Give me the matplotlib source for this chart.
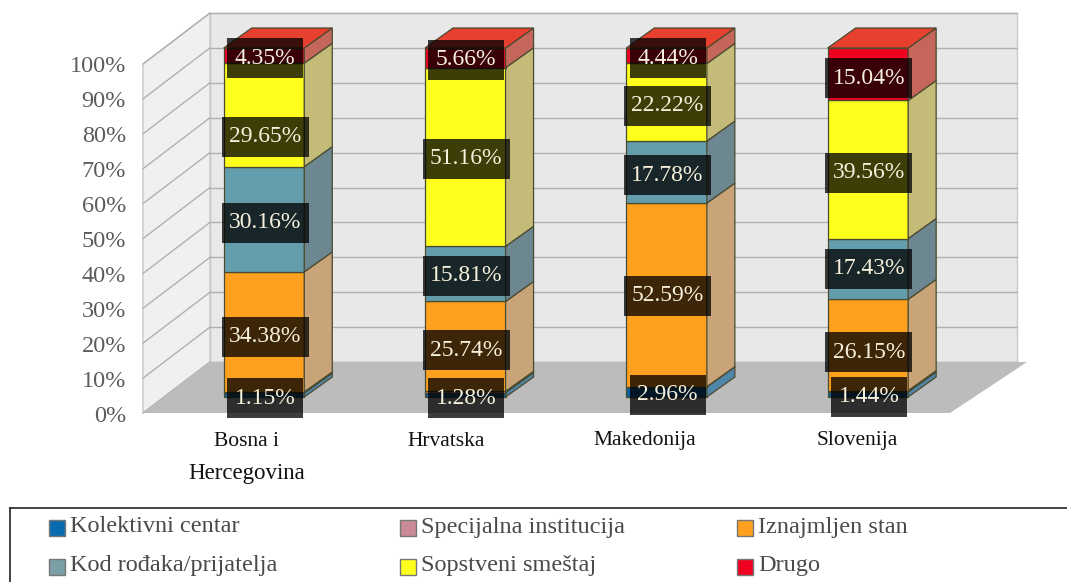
import matplotlib
matplotlib.use('Agg')
import matplotlib.pyplot as plt
from matplotlib.patches import Polygon, Rectangle

plt.rcParams['font.family'] = ['Liberation Serif', 'DejaVu Serif']

COUNTRIES = ['Bosna i\nHercegovina', 'Hrvatska', 'Makedonija', 'Slovenija']
SERIES_NAMES = ['Kolektivni centar', 'Specijalna institucija', 'Iznajmljen stan',
                'Kod rođaka/prijatelja', 'Sopstveni smeštaj', 'Drugo']

KOLEKTIVNI = [1.15, 1.28, 2.96, 1.44]
SPECIJALNA = [0.31, 0.35, 0.01, 0.38]
IZNAJMLJEN = [34.38, 25.74, 52.59, 26.15]
KOD_RODAKA = [30.16, 15.81, 17.78, 17.43]
SOPSTVENI = [29.65, 51.16, 22.22, 39.56]
DRUGO = [4.35, 5.66, 4.44, 15.04]
ALL_SERIES = [KOLEKTIVNI, SPECIJALNA, IZNAJMLJEN, KOD_RODAKA, SOPSTVENI, DRUGO]

PERCENT_TICKS = [0, 10, 20, 30, 40, 50, 60, 70, 80, 90, 100]

# height of the printed label boxes, they do not sit in the middle of the segments
LABEL_HEIGHTS = [
    [-0.3, None, 17.2, 49.9, 74.5, 97.1],
    [-0.3, None, 13.4, 34.7, 68.2, 96.6],
    [0.6, None, 29.0, 63.6, 83.4, 97.1],
    [0.0, None, 12.8, 36.7, 64.2, 91.4],
]

FRONT_COLORS = ['#0a62a0', '#c98a96', '#ffa11f', '#649ead', '#ffff1e', '#f00020']
SIDE_COLORS = ['#4f86a8', '#b08a90', '#c8a478', '#6d8791', '#c4bb78', '#c4665a']
LEGEND_COLORS = ['#0a6cb0', '#c98a96', '#ffa11f', '#7a9fa5', '#ffff1e', '#f00020']
TOP_COLOR = '#e8402e'
EDGE_COLOR = '#4a4a30'

FIG_W = 1067
FIG_H = 582
PX_PER_PERCENT = 3.49
PX_PER_CATEGORY = 201.3
FIRST_BAR_PX = 264
BASE_PX = 397

BAR_WIDTH = 0.40
DEPTH_X = 28 / PX_PER_CATEGORY
DEPTH_Y = 20 / PX_PER_PERCENT


def x_from_px(x):
    return (x - FIRST_BAR_PX) / PX_PER_CATEGORY


def y_from_px(y):
    return (BASE_PX - y) / PX_PER_PERCENT


def fig_text(x, y, text, **kwargs):
    fig.text(x / FIG_W, 1 - y / FIG_H, text, va='center', **kwargs)


def draw_walls(ax):
    backLeft = x_from_px(210)
    frontLeft = x_from_px(143)
    backRight = x_from_px(1017)
    floorBackRight = x_from_px(1027)
    floorFrontRight = x_from_px(950)
    backZero = y_from_px(362)
    frontZero = y_from_px(413)
    backTop = backZero + 100

    ax.add_patch(Polygon([(backLeft, backZero), (backRight, backZero), (backRight, backTop), (backLeft, backTop)],
                         facecolor='#e8e8e8', edgecolor='#c8c8c8', lw=1, zorder=1))
    ax.add_patch(Polygon([(frontLeft, frontZero), (backLeft, backZero), (backLeft, backTop), (frontLeft, frontZero + 100)],
                         facecolor='#f0f0f0', edgecolor='#c8c8c8', lw=1, zorder=1))
    for tick in PERCENT_TICKS:
        ax.plot([backLeft, backRight], [backZero + tick, backZero + tick], color='#b0b0b0', lw=1, zorder=2)
        ax.plot([frontLeft, backLeft], [frontZero + tick, backZero + tick], color='#b0b0b0', lw=1, zorder=2)
    ax.add_patch(Polygon([(frontLeft, frontZero), (backLeft, backZero), (floorBackRight, backZero), (floorFrontRight, frontZero)],
                         facecolor='#bcbcbc', edgecolor='none', zorder=3))


def draw_bar(ax, position, barValues, labelHeights):
    bottom = 0
    right = position + BAR_WIDTH / 2
    left = position - BAR_WIDTH / 2
    for value, front, side in zip(barValues, FRONT_COLORS, SIDE_COLORS):
        ax.bar(position, value, BAR_WIDTH, bottom=bottom, color=front, edgecolor=EDGE_COLOR, lw=0.9, zorder=4)
        ax.add_patch(Polygon([(right, bottom), (right + DEPTH_X, bottom + DEPTH_Y),
                              (right + DEPTH_X, bottom + value + DEPTH_Y), (right, bottom + value)],
                             facecolor=side, edgecolor=EDGE_COLOR, lw=0.9, zorder=4))
        bottom += value
    ax.add_patch(Polygon([(left, bottom), (right, bottom), (right + DEPTH_X, bottom + DEPTH_Y), (left + DEPTH_X, bottom + DEPTH_Y)],
                         facecolor=TOP_COLOR, edgecolor=EDGE_COLOR, lw=0.9, zorder=4))

    for value, height in zip(barValues, labelHeights):
        if height is None:
            continue
        label = f'{value:.2f}%'
        boxWidth = (87 if len(label) > 5 else 76) / PX_PER_CATEGORY
        boxHeight = 40 / PX_PER_PERCENT
        center = position + 1 / PX_PER_CATEGORY
        ax.add_patch(Rectangle((center - boxWidth / 2, height - boxHeight / 2), boxWidth, boxHeight,
                               facecolor='black', edgecolor='none', alpha=0.76, zorder=5))
        ax.text(center, height, label, color='#f6f0dc', fontsize=17, ha='center', va='center', zorder=6)


def draw_axis_labels():
    for tick in PERCENT_TICKS:
        fig_text(126, 417 - 3.51 * tick, f'{tick}%', color='#5c5c5c', fontsize=17.5, ha='right')
    centers = [247, 446, 645, 857]
    for center, name in zip(centers, COUNTRIES):
        lines = name.split('\n')
        fig_text(center, 441, lines[0], color='#111111', fontsize=15.5, ha='center')
        if len(lines) > 1:
            fig_text(center, 474, lines[1], color='#111111', fontsize=16.5, ha='center')


def draw_legend():
    fig.add_artist(plt.Line2D([10 / FIG_W, 1], [1 - 508 / FIG_H, 1 - 508 / FIG_H], color='#222222', lw=1.2))
    fig.add_artist(plt.Line2D([10 / FIG_W, 10 / FIG_W], [1 - 508 / FIG_H, 0], color='#222222', lw=1.2))
    columns = [49, 400, 737]
    rows = [528, 567]
    for index, name in enumerate(SERIES_NAMES):
        x = columns[index % 3]
        y = rows[index // 3]
        fig.add_artist(Rectangle((x / FIG_W, 1 - (y + 8) / FIG_H), 16 / FIG_W, 16 / FIG_H,
                                 facecolor=LEGEND_COLORS[index], edgecolor='#777777', lw=1,
                                 transform=fig.transFigure))
        fig_text(x + 21, y - 1, name, color='#4a4a4a', fontsize=17.5, ha='left')


fig = plt.figure(figsize=(FIG_W / 100, FIG_H / 100), dpi=100, facecolor='white')
ax = fig.add_axes([0, 0, 1, 1])
ax.set_xlim(x_from_px(0), x_from_px(FIG_W))
ax.set_ylim(y_from_px(FIG_H), y_from_px(0))
ax.axis('off')

draw_walls(ax)
for i in range(len(COUNTRIES)):
    draw_bar(ax, i, [series[i] for series in ALL_SERIES], LABEL_HEIGHTS[i])
draw_axis_labels()
draw_legend()

fig.savefig('out.png', dpi=100)
